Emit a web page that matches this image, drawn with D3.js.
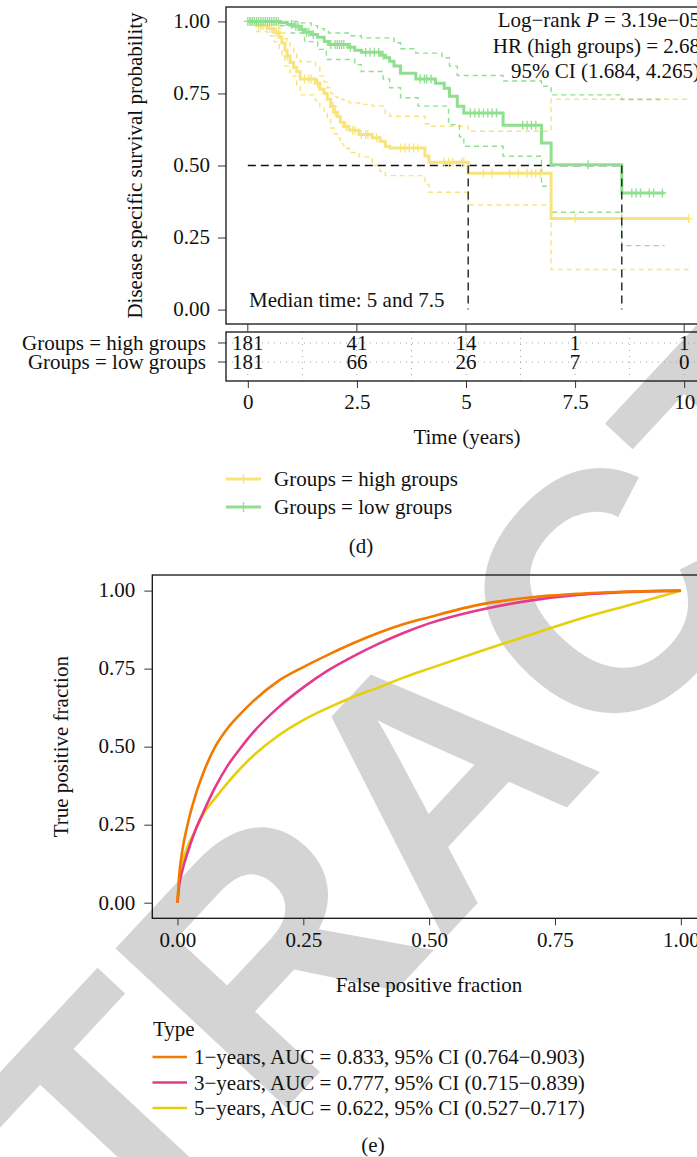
<!DOCTYPE html>
<html>
<head>
<meta charset="utf-8">
<script src="https://cdn.jsdelivr.net/npm/d3@7"></script>
<style>
  html, body { margin: 0; padding: 0; background: #fff; }
  svg { display: block; font-family: "Liberation Serif", "Times New Roman", serif; }
</style>
</head>
<body>
<svg id="fig" width="697" height="1157"></svg>
<script>
// ---------------- Kaplan–Meier data (disease specific survival) ----------------
const groupNames = ["high groups", "low groups"];

// [time (years), survival after the step]
const highSteps = [[0,1],[0.2,0.985],[0.45,0.975],[0.6,0.962],[0.72,0.945],[0.78,0.925],[0.85,0.9],[0.9,0.88],[0.97,0.857],[1.05,0.84],[1.12,0.825],[1.2,0.8],[1.55,0.785],[1.65,0.765],[1.75,0.75],[1.82,0.73],[1.9,0.705],[1.98,0.685],[2.05,0.67],[2.12,0.65],[2.2,0.635],[2.32,0.622],[2.55,0.608],[2.85,0.596],[3.03,0.584],[3.15,0.567],[3.25,0.561],[4.06,0.533],[4.15,0.511],[5.05,0.473],[6.95,0.316]];
const highUpper = [[0,1],[0.6,0.99],[0.72,0.975],[0.78,0.96],[0.85,0.94],[0.9,0.925],[0.97,0.91],[1.05,0.895],[1.12,0.875],[1.2,0.86],[1.55,0.842],[1.65,0.81],[1.75,0.79],[1.82,0.77],[1.9,0.75],[1.98,0.74],[2.05,0.735],[2.12,0.73],[2.2,0.725],[2.32,0.718],[2.55,0.712],[2.85,0.706],[3.15,0.68],[3.25,0.671],[4.06,0.645],[4.15,0.636],[5.05,0.619],[6.95,0.73]];
const highLower = [[0,1],[0.2,0.965],[0.45,0.95],[0.6,0.93],[0.72,0.9],[0.78,0.875],[0.85,0.845],[0.97,0.81],[1.12,0.775],[1.2,0.745],[1.55,0.725],[1.65,0.7],[1.75,0.68],[1.82,0.66],[1.9,0.63],[1.98,0.61],[2.05,0.595],[2.12,0.575],[2.2,0.56],[2.32,0.545],[2.55,0.53],[2.85,0.5],[3.03,0.48],[3.15,0.465],[4.06,0.434],[4.15,0.407],[5.05,0.363],[6.95,0.139]];
const highEnd = 10.1;
const highCensor = [0.05,0.1,0.15,0.25,0.3,0.35,0.5,0.55,0.65,0.7,0.9,1.3,1.4,1.45,1.6,1.95,2.0,2.25,2.4,2.45,2.6,2.7,2.75,2.95,3.5,3.6,3.7,3.8,3.9,4.5,4.6,4.7,4.9,4.95,5.4,5.6,6.0,6.2,6.4,6.5,6.6,6.7,7.5,10.1];

const lowSteps = [[0,1],[0.75,0.995],[0.9,0.99],[1.05,0.983],[1.2,0.972],[1.3,0.962],[1.45,0.955],[1.6,0.945],[1.75,0.93],[1.85,0.92],[2.3,0.91],[2.45,0.9],[2.6,0.893],[3.05,0.883],[3.15,0.874],[3.25,0.862],[3.35,0.845],[3.5,0.82],[3.85,0.8],[4.3,0.785],[4.5,0.768],[4.62,0.74],[4.8,0.706],[4.95,0.682],[5.85,0.64],[6.73,0.578],[6.95,0.503],[8.57,0.405]];
const lowUpper = [[0,1],[1.2,0.995],[1.45,0.985],[1.6,0.975],[1.75,0.965],[1.85,0.96],[2.3,0.95],[2.6,0.943],[3.35,0.926],[3.5,0.905],[3.85,0.89],[4.45,0.874],[4.62,0.845],[4.8,0.8125],[5.85,0.793],[6.73,0.775],[6.95,0.745],[8.57,0.729]];
const lowLower = [[0,1],[0.75,0.985],[1.0,0.96],[1.3,0.93],[1.6,0.903],[1.8,0.868],[2.45,0.85],[2.6,0.826],[3.1,0.8],[3.25,0.77],[3.5,0.735],[3.9,0.706],[4.6,0.642],[4.85,0.6],[4.95,0.567],[5.85,0.532],[6.73,0.428],[6.95,0.338],[8.57,0.222]];
const lowEnd = 9.55;
const lowCensor = [0,0.05,0.1,0.15,0.2,0.25,0.3,0.35,0.4,0.45,0.5,0.55,0.6,0.65,0.7,1.0,1.1,1.15,1.25,1.35,1.4,1.5,1.9,2.0,2.05,2.1,2.15,2.2,2.35,2.7,2.8,2.9,3.0,3.1,3.95,4.05,4.1,4.2,5.1,5.2,5.3,5.4,5.5,5.6,5.7,6.3,6.4,6.5,6.6,7.8,8.8,8.9,9.0,9.2,9.3,9.5];

// Number at risk
const riskTimes = [0, 2.5, 5, 7.5, 10];
const riskHigh = [181, 41, 14, 1, 1];
const riskLow = [181, 66, 26, 7, 0];

const kmTicksY = [0, 0.25, 0.5, 0.75, 1];
const kmTicksX = [0, 2.5, 5, 7.5, 10];

const statLines = ["Log\u2212rank ", "HR (high groups) = 2.68", "95% CI (1.684, 4.265)"];
const medianText = "Median time: 5 and 7.5";

// ---------------- time-dependent ROC data ----------------
const rocFpr = [0,0.003,0.01,0.02,0.035,0.05,0.075,0.1,0.125,0.15,0.2,0.25,0.3,0.35,0.4,0.45,0.5,0.6,0.7,0.8,0.9,1];
const tpr1yr = [0,0.08,0.17,0.25,0.34,0.41,0.5,0.56,0.605,0.645,0.71,0.755,0.795,0.832,0.865,0.893,0.915,0.955,0.978,0.99,0.997,1];
const tpr3yr = [0,0.05,0.105,0.16,0.23,0.285,0.37,0.44,0.495,0.545,0.625,0.69,0.745,0.79,0.83,0.865,0.895,0.938,0.968,0.987,0.996,1];
const tpr5yr = [0,0.07,0.13,0.18,0.23,0.28,0.335,0.385,0.43,0.47,0.535,0.585,0.625,0.66,0.69,0.722,0.75,0.805,0.858,0.91,0.955,1];
const rocLabels = [
  "1\u2212years, AUC = 0.833, 95% CI (0.764\u22120.903)",
  "3\u2212years, AUC = 0.777, 95% CI (0.715\u22120.839)",
  "5\u2212years, AUC = 0.622, 95% CI (0.527\u22120.717)"
];
const rocTicks = [0, 0.25, 0.5, 0.75, 1];

// ---------------- styling ----------------
const FS = 21;
const FONT = "'Liberation Serif', 'Times New Roman', serif";
const colHigh = "#f8e47c", colLow = "#8fdf8f";
const rocColors = ["#f27a00", "#e6398c", "#e5d00c"];
const ink = "#111";

const svg = d3.select("#fig");

// background watermark
svg.append("text")
  .attr("transform", "translate(433,772) rotate(-47)")
  .attr("y", 122)
  .attr("text-anchor", "middle")
  .style("font-family", "'Liberation Sans', Arial, sans-serif")
  .style("font-weight", "bold")
  .style("font-size", "340px")
  .attr("fill", "#d4d4d4")
  .text("RETRACTED");

function txt(g, x, y, s, anchor) {
  return g.append("text").attr("x", x).attr("y", y)
    .attr("text-anchor", anchor || "start")
    .style("font-family", FONT)
    .style("font-size", FS + "px").attr("fill", ink).text(s);
}
function styleAxis(g) {
  g.attr("font-family", null).attr("font-size", null);
  g.select(".domain").remove();
  g.selectAll("line").attr("stroke", "#333");
  g.selectAll("text").style("font-size", FS + "px").style("font-family", FONT).attr("fill", ink);
}

// ================= Kaplan–Meier panel =================
const xKM = d3.scaleLinear().domain([-0.5, 10.5]).range([226, 706]);
const yKM = d3.scaleLinear().domain([-0.05, 1.05]).range([324, 7]);
const km = svg.append("g");

function withEnd(steps, end) { return steps.concat([[end, steps[steps.length - 1][1]]]); }
function survAt(steps, t) {
  let s = steps[0][1];
  for (const [tt, ss] of steps) { if (tt <= t) s = ss; else break; }
  return s;
}
function medianOf(steps) {
  const hit = steps.find(d => d[1] < 0.5);
  return hit ? hit[0] : null;
}
const stepLine = d3.line().x(d => xKM(d[0])).y(d => yKM(d[1])).curve(d3.curveStepAfter);

const kmSeries = [
  {steps: highSteps, up: highUpper, lo: highLower, end: highEnd, cens: highCensor, col: colHigh},
  {steps: lowSteps, up: lowUpper, lo: lowLower, end: lowEnd, cens: lowCensor, col: colLow}
];

// confidence bands (dashed)
kmSeries.forEach(s => {
  [s.up, s.lo].forEach(b => {
    km.append("path").attr("d", stepLine(withEnd(b, s.end)))
      .attr("fill", "none").attr("stroke", s.col).attr("stroke-width", 1.4)
      .attr("stroke-dasharray", "5,4");
  });
});

// median reference lines
const medians = kmSeries.map(s => medianOf(s.steps));
km.append("line").attr("x1", xKM(0)).attr("x2", xKM(d3.max(medians)))
  .attr("y1", yKM(0.5)).attr("y2", yKM(0.5))
  .attr("stroke", ink).attr("stroke-width", 1.4).attr("stroke-dasharray", "8,5");

// survival curves and censor marks
kmSeries.forEach(s => {
  km.append("path").attr("d", stepLine(withEnd(s.steps, s.end)))
    .attr("fill", "none").attr("stroke", s.col).attr("stroke-width", 3);
  km.append("g").selectAll("path").data(s.cens).join("path")
    .attr("d", t => {
      const x = xKM(t), y = yKM(survAt(s.steps, t));
      return `M${x - 4},${y}H${x + 4}M${x},${y - 4.5}V${y + 4.5}`;
    })
    .attr("stroke", s.col).attr("stroke-width", 1.3).attr("fill", "none");
});
medians.forEach(m => {
  km.append("line").attr("x1", xKM(m)).attr("x2", xKM(m))
    .attr("y1", yKM(0.5)).attr("y2", yKM(0))
    .attr("stroke", "#222").attr("stroke-width", 1.4).attr("stroke-dasharray", "8,5");
});

// panel border
km.append("rect").attr("x", 226).attr("y", 7).attr("width", 480).attr("height", 317)
  .attr("fill", "none").attr("stroke", ink).attr("stroke-width", 1.3);

// y axis
km.append("g").attr("transform", "translate(226,0)")
  .call(d3.axisLeft(yKM).tickValues(kmTicksY).tickFormat(d3.format(".2f")).tickSize(8).tickPadding(8))
  .call(styleAxis)
  .selectAll("text").attr("dy", "0.3em");
// x ticks under the panel
km.append("g").selectAll("line").data(kmTicksX).join("line")
  .attr("x1", d => xKM(d)).attr("x2", d => xKM(d)).attr("y1", 324).attr("y2", 331)
  .attr("stroke", "#333");

// annotations
const t1 = km.append("text").attr("x", 700).attr("y", 27).attr("text-anchor", "end")
  .style("font-family", FONT).style("font-size", FS + "px").attr("fill", ink);
t1.append("tspan").text(statLines[0]);
t1.append("tspan").style("font-style", "italic").text("P");
t1.append("tspan").text(" = 3.19e\u221205");
txt(km, 700, 53, statLines[1], "end");
txt(km, 700, 78, statLines[2], "end");
txt(km, 249, 307, medianText);

km.append("text").attr("transform", "translate(142,165.5) rotate(-90)")
  .attr("text-anchor", "middle").style("font-family", FONT).style("font-size", FS + "px").attr("fill", ink)
  .text("Disease specific survival probability");

// ================= risk table =================
const yRisk = d3.scalePoint().domain(groupNames).range([343, 362]);
const risk = svg.append("g");
const gridX = d3.range(0, 10.01, 1.25);
risk.append("g").selectAll("line").data(gridX).join("line")
  .attr("x1", d => xKM(d)).attr("x2", d => xKM(d)).attr("y1", 332).attr("y2", 381)
  .attr("stroke", "#9a9a9a").attr("stroke-width", 0.9).attr("stroke-dasharray", "1,5");
risk.append("g").selectAll("line").data(groupNames).join("line")
  .attr("x1", 226).attr("x2", 706).attr("y1", d => yRisk(d)).attr("y2", d => yRisk(d))
  .attr("stroke", "#9a9a9a").attr("stroke-width", 0.9).attr("stroke-dasharray", "1,5");
risk.append("rect").attr("x", 226).attr("y", 332).attr("width", 480).attr("height", 49)
  .attr("fill", "none").attr("stroke", ink).attr("stroke-width", 1.3);

[[groupNames[0], riskHigh], [groupNames[1], riskLow]].forEach(([g, vals]) => {
  risk.append("g").selectAll("text").data(vals).join("text")
    .attr("x", (d, i) => xKM(riskTimes[i])).attr("y", yRisk(g)).attr("dy", "0.33em")
    .attr("text-anchor", "middle").style("font-family", FONT).style("font-size", FS + "px").attr("fill", ink)
    .text(d => d);
  risk.append("line").attr("x1", 218).attr("x2", 226).attr("y1", yRisk(g)).attr("y2", yRisk(g))
    .attr("stroke", "#333");
  risk.append("text").attr("x", 206).attr("y", yRisk(g)).attr("dy", "0.33em")
    .attr("text-anchor", "end").style("font-family", FONT).style("font-size", FS + "px").attr("fill", ink)
    .text("Groups = " + g);
});
risk.append("g").attr("transform", "translate(0,381)")
  .call(d3.axisBottom(xKM).tickValues(kmTicksX).tickFormat(d => d).tickSize(7).tickPadding(6))
  .call(styleAxis);

txt(svg, 467, 444, "Time (years)", "middle");

// KM legend
const kmLeg = svg.append("g");
[[colHigh, groupNames[0], 479], [colLow, groupNames[1], 507]].forEach(([c, g, y]) => {
  kmLeg.append("line").attr("x1", 226).attr("x2", 261).attr("y1", y).attr("y2", y)
    .attr("stroke", c).attr("stroke-width", 3);
  kmLeg.append("path").attr("d", `M243.5,${y - 5}V${y + 5}`).attr("stroke", c).attr("stroke-width", 1.3);
  txt(kmLeg, 274, y + 7, "Groups = " + g);
});
txt(svg, 361, 553, "(d)", "middle");

// ================= ROC panel =================
const xR = d3.scaleLinear().domain([-0.05, 1.05]).range([152.3, 706]);
const yR = d3.scaleLinear().domain([-0.05, 1.05]).range([918.3, 575]);
const roc = svg.append("g");
const rocLine = d3.line().x(d => xR(d[0])).y(d => yR(d[1])).curve(d3.curveMonotoneX);
[tpr5yr, tpr3yr, tpr1yr].forEach((tp, k) => {
  const idx = 2 - k;
  roc.append("path").attr("d", rocLine(rocFpr.map((f, i) => [f, tp[i]])))
    .attr("fill", "none").attr("stroke", rocColors[idx]).attr("stroke-width", 2.6);
});
roc.append("rect").attr("x", 152.3).attr("y", 575).attr("width", 553.7).attr("height", 343.3)
  .attr("fill", "none").attr("stroke", ink).attr("stroke-width", 1.3);
roc.append("g").attr("transform", "translate(152.3,0)")
  .call(d3.axisLeft(yR).tickValues(rocTicks).tickFormat(d3.format(".2f")).tickSize(8).tickPadding(9))
  .call(styleAxis)
  .selectAll("text").attr("dy", "0.3em");
roc.append("g").attr("transform", "translate(0,918.3)")
  .call(d3.axisBottom(xR).tickValues(rocTicks).tickFormat(d3.format(".2f")).tickSize(7).tickPadding(7))
  .call(styleAxis);

txt(svg, 429, 992, "False positive fraction", "middle");
svg.append("text").attr("transform", "translate(68,746.7) rotate(-90)")
  .attr("text-anchor", "middle").style("font-family", FONT).style("font-size", FS + "px").attr("fill", ink)
  .text("True positive fraction");

// ROC legend
txt(svg, 153, 1036, "Type");
rocLabels.forEach((lab, i) => {
  const y = 1057 + i * 25.5;
  svg.append("line").attr("x1", 152.5).attr("x2", 187).attr("y1", y).attr("y2", y)
    .attr("stroke", rocColors[i]).attr("stroke-width", 2.6);
  txt(svg, 194, y + 7, lab);
});
txt(svg, 373, 1152, "(e)", "middle");
</script>
</body>
</html>
